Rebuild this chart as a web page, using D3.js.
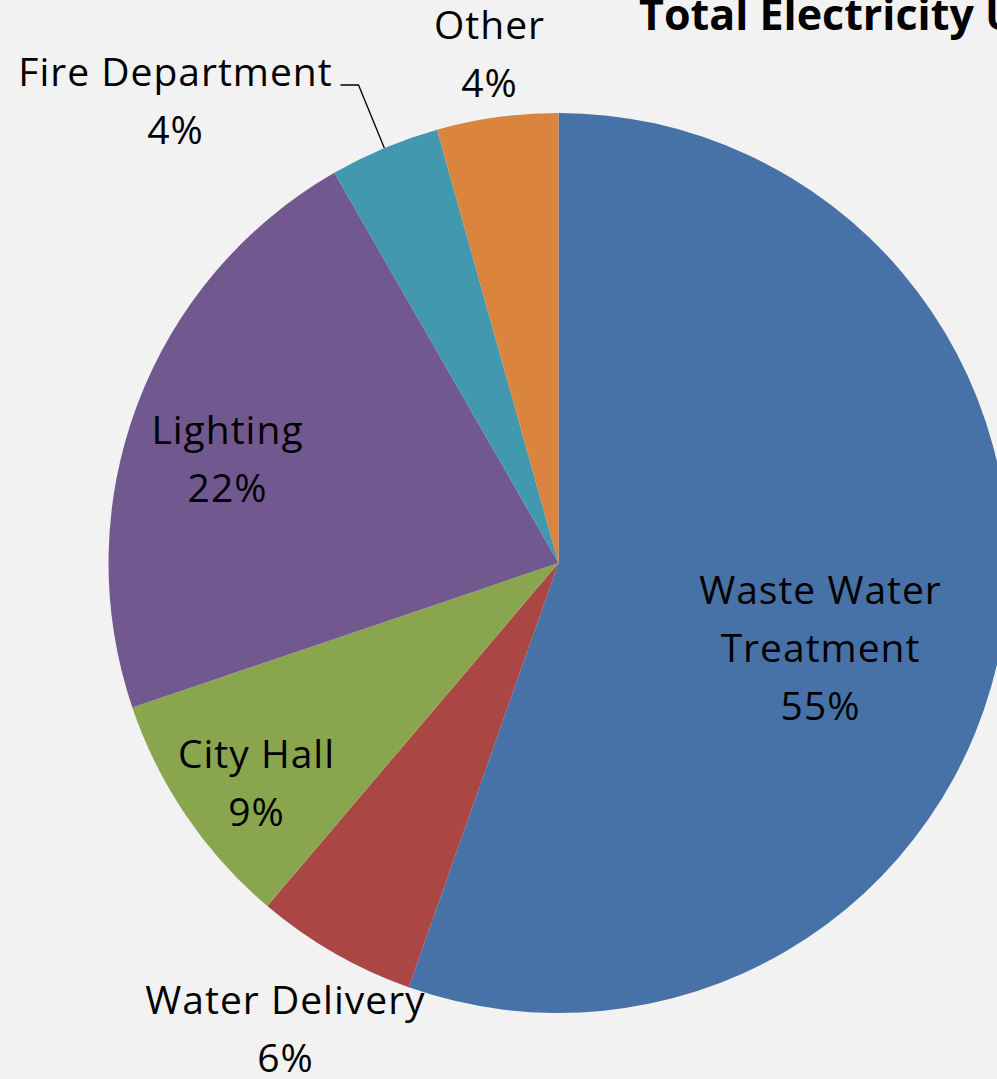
<!DOCTYPE html>
<html><head><meta charset="utf-8">
<script src="https://cdn.jsdelivr.net/npm/d3@7"></script>
<style>html,body{margin:0;padding:0;background:#f2f2f2;overflow:hidden}</style>
</head><body>
<svg id="c" width="997" height="1079"></svg>
<script>
const categories = ["Waste Water Treatment","Water Delivery","City Hall","Lighting","Fire Department","Other"];
const values = [55.4, 5.8, 8.6, 21.9, 3.95, 4.35];
const pctLabels = ["55%","6%","9%","22%","4%","4%"];
const colors = ["#4672a8","#aa4643","#89a54e","#71588f","#4198af","#db843d"];
const labelLines = [["Waste Water","Treatment"],["Water Delivery"],["City Hall"],["Lighting"],["Fire Department"],["Other"]];

const W=997,H=1079, cx=558.5, cy=563, R=450;
const svg=d3.select("#c");
svg.append("rect").attr("width",W).attr("height",H).attr("fill","#f2f2f2");
const g=svg.append("g").attr("transform",`translate(${cx},${cy})`);
const pie=d3.pie().sort(null).value(d=>d)(values);
const arc=d3.arc().innerRadius(0).outerRadius(R);
g.selectAll("path").data(pie).join("path").attr("d",arc).attr("fill",(d,i)=>colors[i]);

const font="'Open Sans', sans-serif", fs=39, lh=58;
const lblPos=[[262,27],[-273,437],[-302,191],[-331,-133],[-383,-491],[-69,-538]];
pie.forEach((d,i)=>{
  const lines=labelLines[i].concat([pctLabels[i]]);
  const t=svg.append("text").attr("font-family",font).attr("font-size",fs).attr("letter-spacing","1px").attr("fill","#000").attr("text-anchor","middle");
  lines.forEach((s,j)=>t.append("tspan").attr("x",cx+lblPos[i][0]).attr("y",cy+lblPos[i][1]+j*lh).attr("dy","0.35em").text(s));
});
const fd=pie[4], mid=(fd.startAngle+fd.endAngle)/2;
const px=cx+Math.sin(mid)*R, py=cy-Math.cos(mid)*R;
svg.append("path").attr("d",`M${px},${py}L${cx-200},${cy-478}L${cx-218},${cy-478}`).attr("fill","none").attr("stroke","#000").attr("stroke-width",1.3);
svg.append("text").attr("x",639).attr("y",30).attr("font-family",font).attr("font-weight","bold").attr("font-size",43).text("Total Electricity Use");
</script>
</body></html>
